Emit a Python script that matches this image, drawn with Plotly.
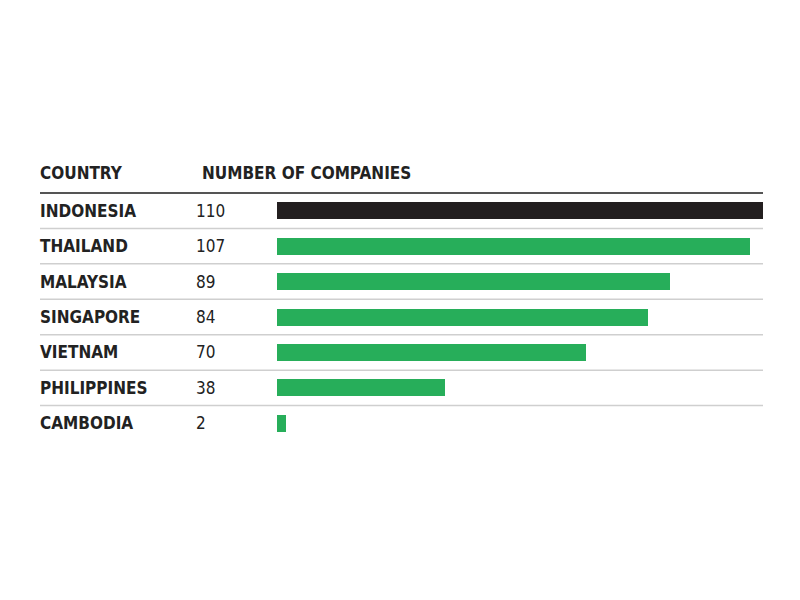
import plotly.graph_objects as go

countries = ["INDONESIA", "THAILAND", "MALAYSIA", "SINGAPORE", "VIETNAM", "PHILIPPINES", "CAMBODIA"]
companies = [110, 107, 89, 84, 70, 38, 2]
bar_colors = ["#231f20", "#27ae5a", "#27ae5a", "#27ae5a", "#27ae5a", "#27ae5a", "#27ae5a"]
header_country = "COUNTRY"
header_number = "NUMBER OF COMPANIES"

# page body has an 8px offset
OFF = 8
W, H = 800, 600
L, R = 277 - OFF, 763 - OFF
T, B = 193 - OFF, 441 - OFF
pw = R - L

def px_to_paper(px):
    return (px - OFF - L) / pw

FONT = "DejaVu Sans Condensed, Liberation Sans Narrow, sans-serif"
FS = 17
rows = list(range(len(countries)))

fig = go.Figure(go.Bar(
    x=companies, y=rows, orientation="h",
    marker=dict(color=bar_colors, line=dict(width=0)),
    width=0.48, hoverinfo="skip",
))

annotations = []
shapes = []
for i, (c, v) in enumerate(zip(countries, companies)):
    annotations.append(dict(x=px_to_paper(41), y=i, xref="paper", yref="y", text="<b>%s</b>" % c,
                            showarrow=False, xanchor="left", yanchor="middle", xshift=-3,
                            font=dict(family=FONT, size=FS, color="#222222")))
    annotations.append(dict(x=px_to_paper(197), y=i, xref="paper", yref="y", text=str(v),
                            showarrow=False, xanchor="left", yanchor="middle", xshift=-3,
                            font=dict(family=FONT, size=FS, color="#222222")))
    if i > 0:
        shapes.append(dict(type="line", xref="paper", yref="y", x0=px_to_paper(40), x1=1.0,
                           y0=i - 0.5, y1=i - 0.5, line=dict(color="#cfcfcf", width=1.5)))

annotations.append(dict(x=px_to_paper(41), y=1, xref="paper", yref="paper", yshift=20,
                        text="<b>%s</b>" % header_country, showarrow=False, xanchor="left", yanchor="middle",
                        xshift=-3, font=dict(family=FONT, size=FS, color="#222222")))
annotations.append(dict(x=px_to_paper(203), y=1, xref="paper", yref="paper", yshift=20,
                        text="<b>%s</b>" % header_number, showarrow=False, xanchor="left", yanchor="middle",
                        xshift=-3, font=dict(family=FONT, size=FS, color="#222222")))
shapes.append(dict(type="line", xref="paper", yref="paper", x0=px_to_paper(40), x1=1.0,
                   y0=1, y1=1, line=dict(color="#555555", width=2)))

fig.update_layout(
    width=W, height=H,
    margin=dict(l=L, r=W - R, t=T, b=H - B, pad=0),
    paper_bgcolor="white", plot_bgcolor="white",
    showlegend=False,
    xaxis=dict(range=[0, 110], visible=False, fixedrange=True),
    yaxis=dict(range=[len(countries) - 0.5, -0.5], visible=False, fixedrange=True),
    annotations=annotations, shapes=shapes,
    bargap=0,
)

fig.write_html("out.html")
